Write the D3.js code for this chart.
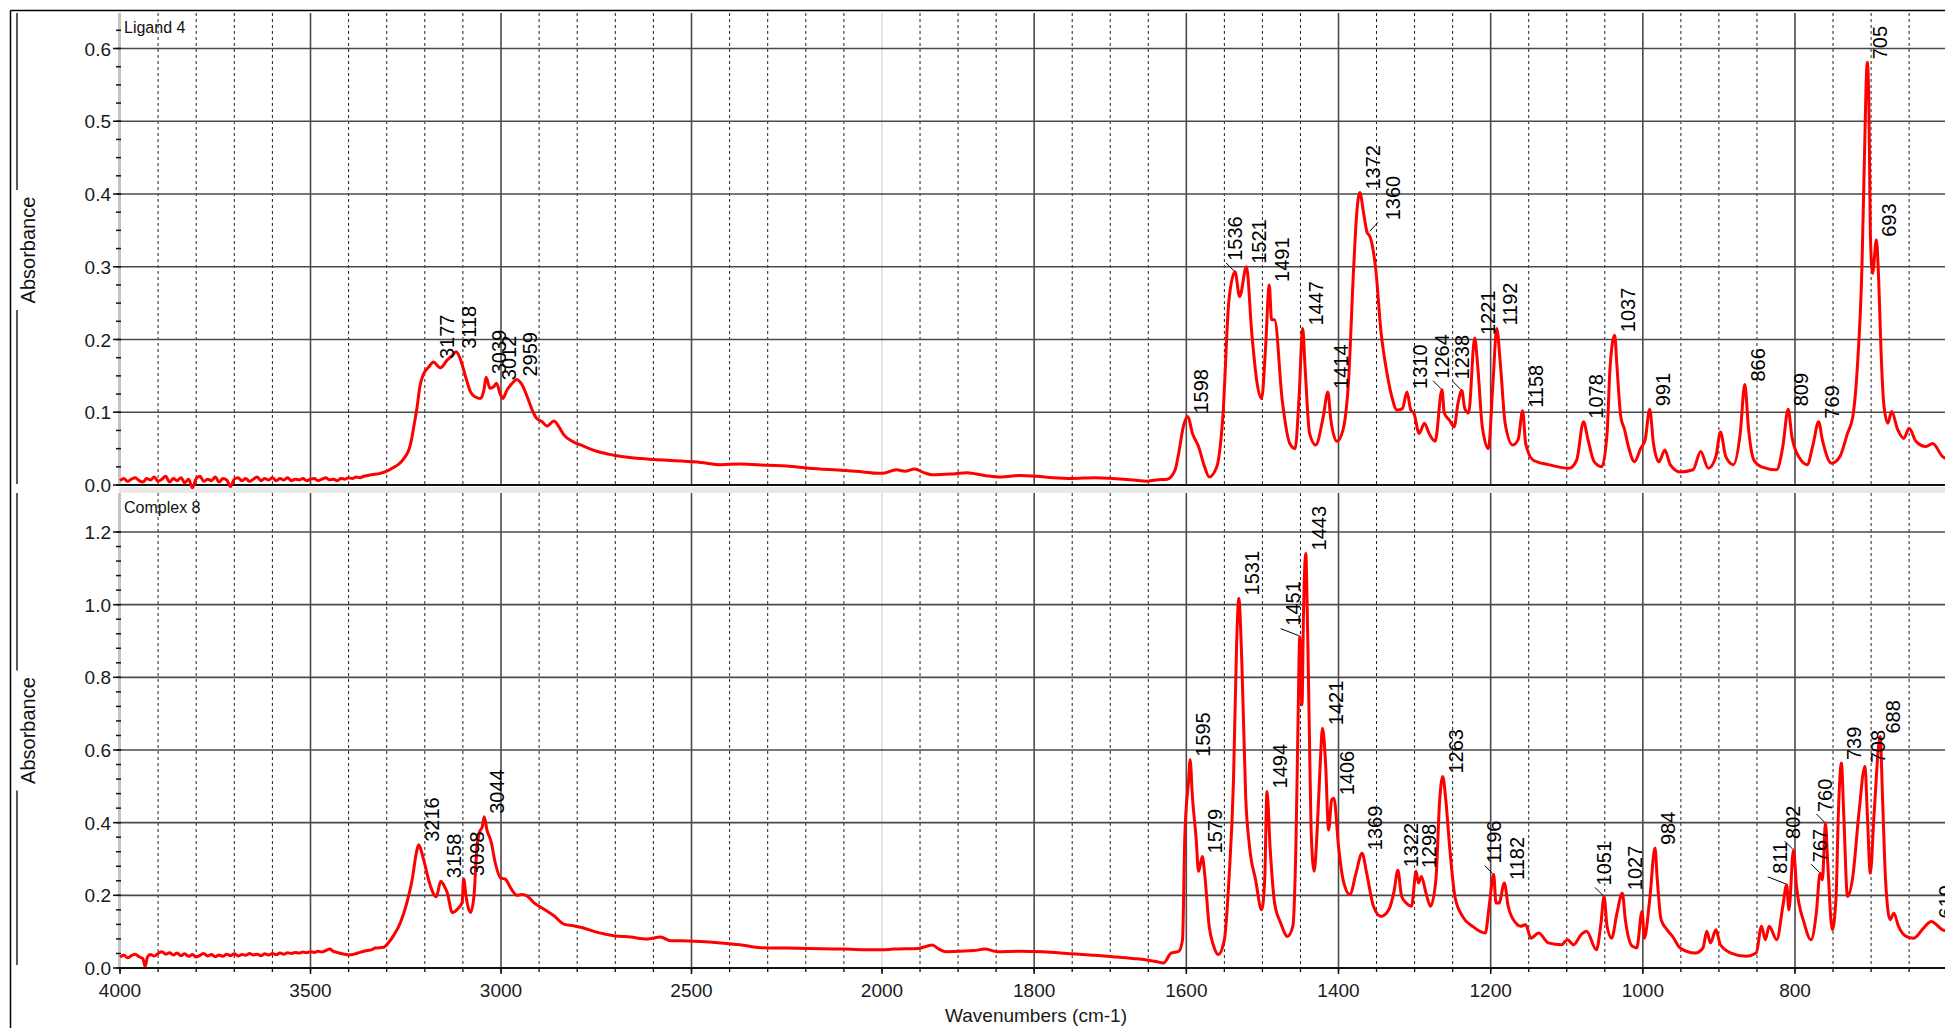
<!DOCTYPE html>
<html><head><meta charset="utf-8">
<script src="https://cdn.jsdelivr.net/npm/d3@7"></script>
<style>
body{margin:0;background:#fff}
svg{display:block}
text{font-family:"Liberation Sans",Arial,sans-serif}
</style></head>
<body><svg id="c" width="1945" height="1028"></svg>
<script>
// ---------- DATA ----------
const xTickLabels = [4000,3500,3000,2500,2000,1800,1600,1400,1200,1000,800];
const ligandYTicks = [0,0.1,0.2,0.3,0.4,0.5,0.6];
const complexYTicks = [0,0.2,0.4,0.6,0.8,1.0,1.2];
const panelNames = ["Ligand 4","Complex 8"];
const yAxisTitle = "Absorbance";
const xAxisTitle = "Wavenumbers (cm-1)";

// Ligand 4 spectrum, 4000-2000 cm-1  [wavenumber, absorbance]
const ligandHigh = [
[4000,.006],[3990,.009],[3980,.005],[3970,.008],[3960,.010],[3950,.006],[3940,.004],[3930,.009],[3920,.007],[3910,.011],
[3900,.005],[3890,.008],[3880,.012],[3870,.004],[3860,.009],[3850,.006],[3840,.010],[3830,.003],[3820,.008],[3810,-.004],
[3800,.009],[3790,.012],[3780,.005],[3770,.008],[3760,.006],[3750,.011],[3740,.004],[3730,.009],[3720,.007],[3710,-.002],
[3700,.008],[3690,.010],[3680,.006],[3670,.009],[3660,.005],[3650,.008],[3640,.011],[3630,.006],[3620,.009],[3610,.007],
[3600,.010],[3590,.006],[3580,.009],[3570,.007],[3560,.010],[3550,.006],[3540,.008],[3530,.007],[3520,.009],[3510,.006],
[3500,.008],[3490,.009],[3480,.006],[3470,.008],[3460,.010],[3450,.007],[3440,.008],[3430,.006],[3420,.009],[3410,.008],
[3400,.010],[3390,.009],[3380,.011],[3370,.010],[3360,.012],[3350,.013],[3340,.014],
[3317,.016],[3300,.019],[3286,.023],[3270,.028],[3260,.033],[3250,.040],[3242,.048],[3235,.062],[3229,.080],[3220,.108],
[3213,.135],[3203,.153],[3190,.162],[3177,.169],[3165,.163],[3159,.161],[3141,.172],[3128,.178],[3118,.183],[3106,.172],
[3093,.149],[3080,.128],[3067,.121],[3054,.119],[3045,.130],[3039,.148],[3029,.133],[3019,.135],[3012,.140],[3002,.125],
[2995,.119],[2985,.130],[2972,.139],[2959,.145],[2944,.137],[2931,.121],[2918,.103],[2907,.092],[2892,.087],[2879,.081],
[2861,.088],[2848,.080],[2835,.069],[2809,.059],[2791,.055],[2747,.046],[2704,.041],[2651,.037],[2598,.035],[2528,.033],
[2476,.031],[2423,.028],[2373,.029],[2300,.027],[2250,.026],[2192,.023],[2100,.020],[2050,.018],[2011,.016]
];
// Ligand 4 spectrum, 2000-600 cm-1
const ligandLow = [
[2000,.016],[1981,.021],[1970,.019],[1957,.022],[1945,.017],[1934,.014],[1910,.015],[1888,.017],[1865,.013],[1843,.011],
[1820,.013],[1797,.012],[1775,.010],[1751,.009],[1720,.010],[1697,.009],[1670,.007],[1652,.005],[1640,.007],[1625,.008],
[1615,.020],[1610,.044],[1604,.080],[1598,.094],[1592,.071],[1584,.053],[1576,.025],[1570,.011],[1560,.025],[1552,.094],
[1544,.254],[1536,.293],[1530,.259],[1521,.300],[1514,.209],[1507,.140],[1501,.119],[1496,.186],[1491,.275],[1488,.227],
[1484,.227],[1474,.117],[1464,.057],[1457,.050],[1452,.117],[1447,.215],[1444,.163],[1438,.071],[1430,.055],[1420,.094],
[1414,.128],[1410,.089],[1402,.060],[1394,.076],[1387,.140],[1380,.300],[1376,.374],[1372,.402],[1367,.374],[1362,.346],
[1360,.344],[1357,.336],[1351,.296],[1344,.209],[1337,.158],[1331,.126],[1323,.103],[1316,.105],[1310,.128],[1305,.103],
[1301,.099],[1294,.071],[1287,.085],[1281,.071],[1273,.060],[1264,.131],[1261,.099],[1254,.089],[1248,.080],[1243,.112],
[1238,.130],[1234,.105],[1229,.099],[1221,.202],[1217,.163],[1211,.080],[1203,.050],[1197,.140],[1192,.215],[1187,.163],
[1181,.085],[1171,.055],[1164,.062],[1158,.102],[1154,.057],[1144,.034],[1124,.028],[1097,.023],[1087,.034],[1078,.087],
[1072,.062],[1064,.032],[1054,.025],[1047,.071],[1043,.163],[1037,.206],[1034,.163],[1029,.094],[1024,.076],[1019,.053],
[1011,.032],[1003,.050],[997,.062],[991,.104],[986,.057],[979,.032],[971,.048],[964,.028],[951,.018],[934,.021],
[924,.046],[914,.023],[904,.039],[898,.073],[891,.039],[881,.028],[872,.071],[866,.138],[861,.076],[854,.034],
[844,.025],[824,.021],[816,.053],[809,.104],[804,.066],[794,.037],[784,.028],[776,.057],[769,.087],[764,.062],
[752,.030],[741,.039],[731,.071],[724,.094],[718,.163],[712,.300],[709,.438],[705,.581],[703,.530],[701,.346],
[698,.291],[693,.337],[690,.282],[687,.186],[683,.108],[678,.085],[673,.101],[665,.076],[657,.064],[650,.078],
[641,.060],[628,.053],[619,.057],[606,.039],[598,.035]
];
// Complex 8 spectrum, 4000-2000 cm-1
const complexHigh = [
[4000,.030],[3990,.036],[3980,.028],[3970,.034],[3960,.038],[3950,.031],[3940,.026],[3934,.004],[3928,.030],[3920,.037],
[3910,.033],[3900,.040],[3890,.045],[3880,.038],[3870,.042],[3860,.036],[3850,.041],[3840,.034],[3830,.039],[3820,.032],
[3810,.037],[3800,.030],[3790,.035],[3780,.040],[3770,.033],[3760,.037],[3750,.031],[3740,.036],[3730,.032],[3720,.038],
[3710,.034],[3700,.039],[3690,.033],[3680,.037],[3670,.035],[3660,.040],[3650,.036],[3640,.038],[3630,.034],[3620,.039],
[3610,.036],[3600,.040],[3590,.037],[3580,.041],[3570,.038],[3560,.042],[3550,.040],[3540,.043],[3530,.041],[3520,.044],
[3510,.042],[3500,.045],[3490,.043],[3480,.046],[3470,.044],[3460,.048],[3450,.052],[3440,.046],[3430,.043],[3420,.040],
[3410,.038],[3400,.036],[3390,.037],[3380,.040],[3370,.043],[3360,.046],[3350,.048],[3340,.050],
[3330,.055],[3308,.057],[3295,.070],[3282,.089],[3264,.125],[3247,.180],[3233,.244],[3222,.318],[3216,.339],[3208,.318],
[3203,.298],[3185,.225],[3170,.196],[3158,.239],[3150,.228],[3141,.207],[3128,.153],[3111,.166],[3102,.180],[3098,.245],
[3092,.200],[3089,.180],[3080,.153],[3071,.198],[3063,.335],[3056,.375],[3049,.389],[3044,.416],[3037,.380],[3026,.348],
[3015,.289],[3001,.248],[2988,.244],[2975,.221],[2958,.200],[2945,.202],[2931,.198],[2914,.180],[2887,.162],[2861,.144],
[2835,.121],[2809,.116],[2791,.112],[2747,.098],[2704,.089],[2660,.085],[2616,.080],[2581,.085],[2555,.075],[2528,.075],
[2476,.073],[2423,.069],[2373,.064],[2318,.056],[2250,.055],[2192,.054],[2100,.052],[2011,.050]
];
// Complex 8 spectrum, 2000-600 cm-1
const complexLow = [
[2000,.050],[1985,.052],[1952,.054],[1934,.063],[1925,.052],[1916,.045],[1879,.048],[1865,.052],[1848,.045],[1820,.046],
[1788,.045],[1751,.039],[1720,.035],[1697,.031],[1670,.026],[1652,.022],[1640,.018],[1630,.014],[1620,.041],[1610,.046],
[1605,.078],[1602,.362],[1597,.518],[1595,.573],[1592,.472],[1587,.353],[1584,.266],[1579,.307],[1576,.261],[1570,.115],
[1564,.060],[1558,.037],[1550,.078],[1544,.243],[1538,.518],[1534,.885],[1531,1.017],[1527,.839],[1522,.472],[1517,.335],
[1509,.243],[1501,.160],[1497,.243],[1494,.486],[1490,.335],[1484,.179],[1476,.124],[1467,.087],[1460,.115],[1456,.335],
[1453,.701],[1451,.912],[1448,.724],[1446,.976],[1443,1.141],[1441,.976],[1438,.610],[1436,.380],[1432,.266],[1428,.380],
[1424,.564],[1421,.660],[1417,.564],[1413,.380],[1409,.463],[1406,.467],[1400,.335],[1394,.243],[1385,.202],[1377,.261],
[1369,.316],[1363,.261],[1354,.170],[1344,.142],[1334,.160],[1327,.211],[1322,.269],[1317,.197],[1311,.179],[1304,.170],
[1298,.266],[1295,.234],[1291,.252],[1285,.206],[1279,.170],[1272,.243],[1267,.463],[1263,.527],[1259,.463],[1254,.335],
[1247,.197],[1237,.142],[1224,.115],[1207,.096],[1202,.170],[1196,.257],[1193,.179],[1189,.179],[1182,.234],[1177,.170],
[1167,.124],[1161,.115],[1154,.119],[1147,.082],[1137,.096],[1124,.069],[1107,.064],[1099,.078],[1091,.064],[1081,.092],
[1074,.101],[1061,.050],[1055,.124],[1051,.197],[1047,.115],[1041,.082],[1034,.151],[1027,.206],[1023,.133],[1014,.060],
[1008,.055],[1001,.156],[998,.082],[991,.188],[984,.330],[981,.243],[976,.133],[968,.105],[961,.087],[951,.055],
[931,.041],[921,.055],[916,.101],[911,.069],[904,.105],[898,.064],[884,.041],[864,.032],[851,.041],[844,.115],
[839,.078],[834,.115],[824,.078],[816,.170],[811,.229],[808,.160],[802,.325],[798,.225],[788,.124],[779,.078],
[772,.151],[767,.261],[764,.243],[760,.399],[757,.289],[751,.105],[746,.197],[743,.426],[739,.564],[736,.426],
[731,.197],[724,.252],[716,.426],[708,.555],[705,.426],[701,.261],[696,.426],[688,.637],[685,.472],[681,.243],
[675,.133],[670,.151],[664,.115],[654,.087],[644,.082],[631,.110],[621,.128],[606,.105],[598,.100]
];

const ligandPeaks = [3177,3118,3039,3012,2959,1598,1536,1521,1491,1447,1414,1372,1360,1310,1264,1238,1221,1192,1158,1078,1037,991,866,809,769,705,693];
const complexPeaks = [3216,3158,3098,3044,1595,1579,1531,1494,1451,1443,1421,1406,1369,1322,1298,1263,1196,1182,1051,1027,984,811,802,767,760,739,708,688,619];
// peaks whose label sits on a short leader line
const ligandLeaders = [1536,1264,1238];
const ligandLeadersRight = [1360];
const complexLeaders = [1196,1051,802,767,760];
const complexLeadersFar = [1451,811];

// ---------- DRAWING ----------
const W = 1945, H = 1028;
const svg = d3.select("#c");
const plotLeft = 119;
const x = d3.scaleLinear().domain([4000,2000,800]).range([120,882,1795]);
const minorX = d3.range(4000, 2000, -100).concat(d3.range(2000, 550, -50));
const LABEL_FS = 20;

const panels = [
  {name: panelNames[0], data: ligandHigh.concat(ligandLow), peaks: ligandPeaks,
   leaders: ligandLeaders, leadersRight: ligandLeadersRight, leadersFar: [],
   y: d3.scaleLinear().domain([0,0.6]).range([485,48.5]), top: 13, bottom: 487,
   ticks: ligandYTicks, minorN: 26, minorStep: 0.025},
  {name: panelNames[1], data: complexHigh.concat(complexLow), peaks: complexPeaks,
   leaders: complexLeaders, leadersRight: [], leadersFar: complexLeadersFar,
   y: d3.scaleLinear().domain([0,1.2]).range([968,532]), top: 493, bottom: 968,
   ticks: complexYTicks, minorN: 31, minorStep: 0.04}
];
const fmt = d3.format(".1f");

// outer frame
svg.append("line").attr("x1",10.5).attr("x2",W).attr("y1",10.5).attr("y2",10.5).attr("stroke","#000").attr("stroke-width",1.5);
svg.append("line").attr("x1",10.5).attr("x2",10.5).attr("y1",10.5).attr("y2",H).attr("stroke","#000").attr("stroke-width",1.5);
// band between panels
svg.append("rect").attr("x",plotLeft).attr("y",487).attr("width",W-plotLeft).attr("height",6).attr("fill","#e8e8e8");

function valueAt(data, wn){
  let best = null;
  data.forEach(d => { if (Math.abs(d[0]-wn) <= 2.5 && (best === null || d[1] > best)) best = d[1]; });
  if (best !== null) return best;
  for (let i=0;i<data.length-1;i++){
    const a=data[i], b=data[i+1];
    if (wn <= a[0] && wn >= b[0]) { const t=(a[0]-wn)/(a[0]-b[0]); return a[1]+t*(b[1]-a[1]); }
  }
  return 0;
}

panels.forEach((p, pi) => {
  const g = svg.append("g");
  const y = p.y;
  const clipId = "clip"+pi;
  svg.append("clipPath").attr("id",clipId).append("rect")
    .attr("x",plotLeft).attr("y",p.top).attr("width",W-plotLeft).attr("height",p.bottom-p.top+2);

  const majorSet = new Set(xTickLabels);
  minorX.filter(v => !majorSet.has(v)).forEach(v => {
    g.append("line").attr("x1",x(v)).attr("x2",x(v)).attr("y1",p.top).attr("y2",y(0))
      .attr("stroke","#222").attr("stroke-width",1).attr("stroke-dasharray","3,3");
  });
  xTickLabels.filter(v => v !== 4000).forEach(v => {
    g.append("line").attr("x1",x(v)).attr("x2",x(v)).attr("y1",p.top).attr("y2",y(0))
      .attr("stroke", v===2000 ? "#c8c8c8" : "#4a4a4a").attr("stroke-width", v===2000 ? 1 : 1.6);
  });
  p.ticks.forEach(t => {
    g.append("line").attr("x1",plotLeft).attr("x2",W).attr("y1",y(t)).attr("y2",y(t))
      .attr("stroke", t===0 ? "#111" : "#4a4a4a").attr("stroke-width", t===0 ? 2 : 1.6);
  });

  g.append("rect").attr("x",plotLeft-1).attr("y",p.top).attr("width",3).attr("height",y(0)-p.top).attr("fill","#c4c4c4");

  d3.range(p.minorN).map(i => i*p.minorStep).forEach(t => {
    g.append("line").attr("x1",116).attr("x2",121).attr("y1",y(t)).attr("y2",y(t)).attr("stroke","#111").attr("stroke-width",1.5);
  });
  p.ticks.forEach(t => {
    g.append("line").attr("x1",113).attr("x2",121).attr("y1",y(t)).attr("y2",y(t)).attr("stroke","#111").attr("stroke-width",1.5);
    g.append("text").attr("x",111).attr("y",y(t)+7).attr("text-anchor","end")
      .attr("font-size",19).attr("fill","#1a1a1a").text(fmt(t));
  });

  const line = d3.line().x(d => x(d[0])).y(d => y(d[1])).curve(d3.curveMonotoneX);
  g.append("path").datum(p.data).attr("d",line).attr("fill","none")
    .attr("stroke","#ff0000").attr("stroke-width",3).attr("stroke-linejoin","round")
    .attr("clip-path","url(#"+clipId+")");

  p.peaks.forEach(wn => {
    const v = valueAt(p.data, wn);
    const px = x(wn), py = y(v);
    let tx, ty, l = null;
    if (p.leaders.includes(wn)) {
      l = [px-1, py-1, px-9, py-9]; tx = px+7; ty = py-11;
    } else if (p.leadersRight.includes(wn)) {
      l = [px+1, py-2, px+9, py-11]; tx = px+31; ty = py-13;
    } else if (p.leadersFar.includes(wn)) {
      l = [px-1, py-1, px-19, py-8]; tx = px; ty = py-11;
    } else {
      tx = px+20; ty = py-3;
    }
    if (l) g.append("line").attr("x1",l[0]).attr("y1",l[1]).attr("x2",l[2]).attr("y2",l[3])
      .attr("stroke","#000").attr("stroke-width",1);
    g.append("text").attr("transform",`translate(${tx},${ty}) rotate(-90)`)
      .attr("font-size",LABEL_FS).attr("fill","#000").text(wn);
  });

  g.append("text").attr("x",124).attr("y",p.top+20).attr("font-size",16).attr("fill","#111").text(p.name);

  const cy = (p.top + p.bottom)/2;
  g.append("line").attr("x1",17).attr("x2",17).attr("y1",p.top).attr("y2",cy-60).attr("stroke","#000").attr("stroke-width",1.3);
  g.append("line").attr("x1",17).attr("x2",17).attr("y1",cy+60).attr("y2",p.bottom-3).attr("stroke","#000").attr("stroke-width",1.3);
  g.append("text").attr("transform",`translate(35,${cy}) rotate(-90)`).attr("text-anchor","middle")
    .attr("font-size",20).attr("fill","#111").text(yAxisTitle);
});

// x axis
const axisY = 968;
svg.append("line").attr("x1",plotLeft).attr("x2",W).attr("y1",axisY).attr("y2",axisY).attr("stroke","#111").attr("stroke-width",2);
minorX.forEach(v => {
  svg.append("line").attr("x1",x(v)).attr("x2",x(v)).attr("y1",axisY).attr("y2",axisY+4).attr("stroke","#111").attr("stroke-width",1.3);
});
xTickLabels.forEach(v => {
  svg.append("line").attr("x1",x(v)).attr("x2",x(v)).attr("y1",axisY).attr("y2",axisY+6).attr("stroke","#111").attr("stroke-width",1.5);
  svg.append("text").attr("x",x(v)).attr("y",997).attr("text-anchor","middle").attr("font-size",19).attr("fill","#1a1a1a").text(v);
});
svg.append("text").attr("x",1036).attr("y",1022).attr("text-anchor","middle").attr("font-size",19).attr("fill","#1a1a1a").text(xAxisTitle);
</script>
</body></html>
